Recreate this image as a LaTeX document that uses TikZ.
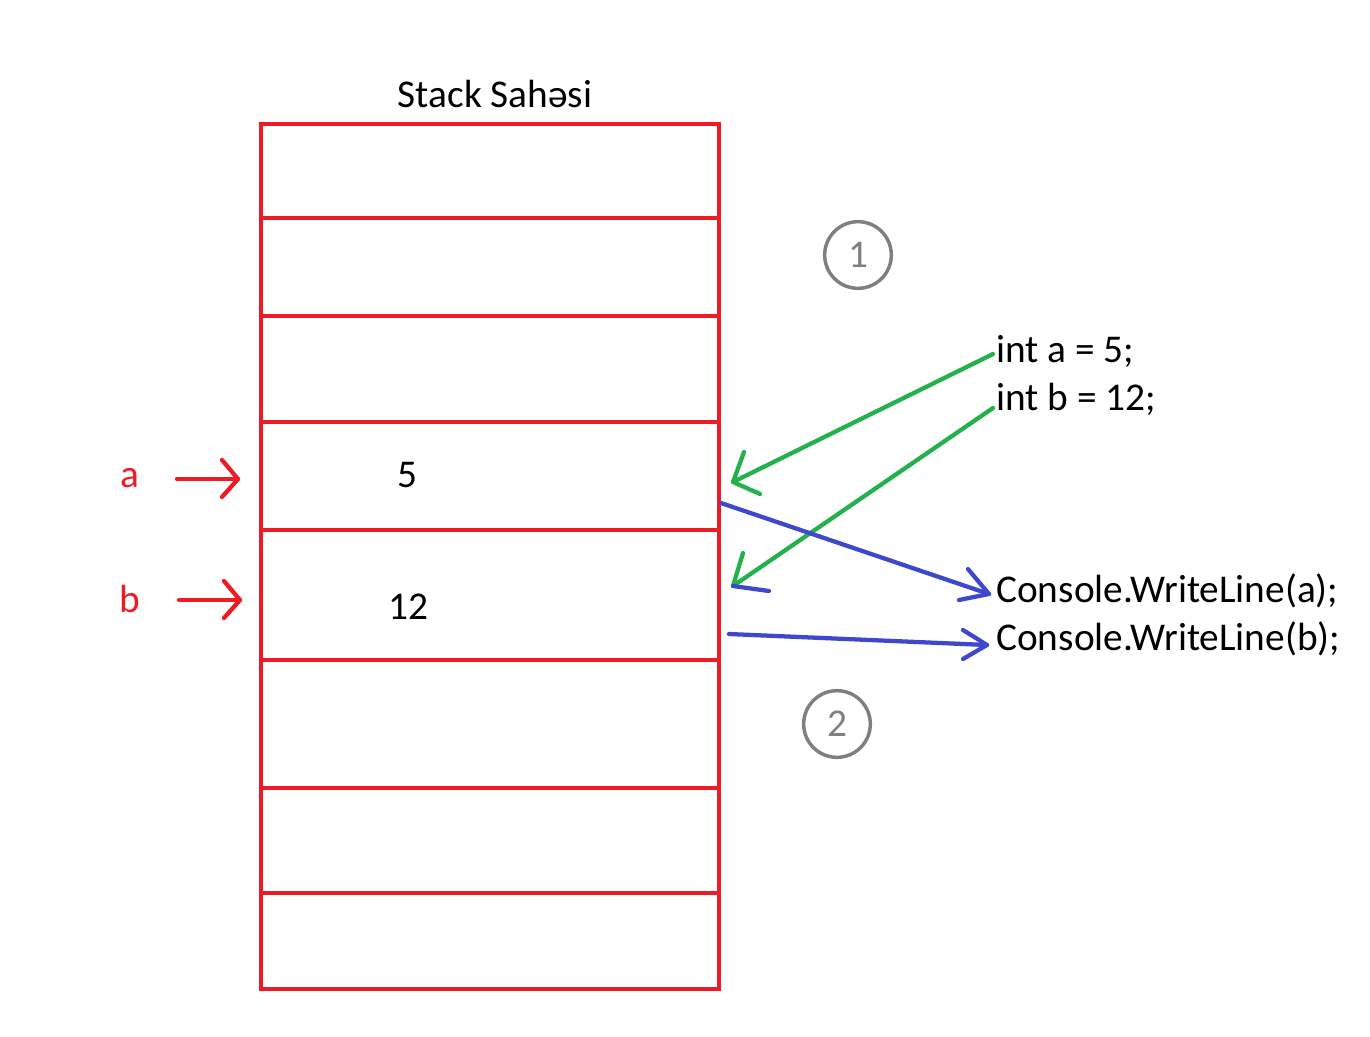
\documentclass[tikz,border=0pt]{standalone}
\usepackage{fontspec}
\setmainfont{Carlito}
\definecolor{pred}{HTML}{ED1C24}
\definecolor{pgreen}{HTML}{22B14C}
\definecolor{pblue}{HTML}{3F48CC}
\definecolor{pgray}{HTML}{7F7F7F}
\begin{document}
\begin{tikzpicture}[x=0.75pt,y=-0.75pt,
  txt/.style={font=\fontsize{29.5}{34}\selectfont, inner sep=0pt, anchor=base},
  code/.style={txt, anchor=base west},
  redline/.style={draw=pred, line width=3.2pt},
  pen/.style={line width=3.2pt, line cap=round, line join=round},
  num/.style={circle, draw=pgray, line width=2.6pt, minimum size=50pt, inner sep=0pt, text=pgray, font=\fontsize{29.5}{34}\selectfont}]
\useasboundingbox (0,0) rectangle (1370,1036);
% stack box
\node[txt] (title) at (495,107) {Stack Sahəsi};
\draw[redline] (261,124) rectangle (719,989);
\foreach \yy in {218,316,422,530,660,788,893}
  \draw[redline] (261,\yy) -- (721,\yy);
% values
\node[txt] (va) at (407,487) {5};
\node[txt] (vb) at (408,619) {12};
% labels
\node[txt, text=pred] (la) at (130,487) {a};
\node[txt, text=pred] (lb) at (130,612) {b};
\coordinate (la1) at (177,479);
\coordinate (la2) at (238,479);
\coordinate (lb1) at (179,600);
\coordinate (lb2) at (240,600);
\draw[pen, draw=pred] (la1) -- (la2);
\draw[pen, draw=pred] (222,460) -- (la2) -- (222,497);
\draw[pen, draw=pred] (lb1) -- (lb2);
\draw[pen, draw=pred] (224,581) -- (lb2) -- (224,618);
% circles
\node[num] (c1) at (858,255) {1};
\node[num] (c2) at (837,724) {2};
% code
\node[code] (ca) at (996,362) {int a = 5;};
\node[code] (cb) at (996,410) {int b = 12;};
\node[code] (wa) at (996,602) {Console.WriteLine(a);};
\node[code] (wb) at (996,650) {Console.WriteLine(b);};
% green arrows
\coordinate (g1s) at (993,354);
\coordinate (g1t) at (733,482);
\coordinate (g2s) at (993,408);
\coordinate (g2t) at (733,586);
\draw[pen, draw=pgreen] (g1s) -- (g1t);
\draw[pen, draw=pgreen] (744,452) -- (g1t) -- (760,494);
\draw[pen, draw=pgreen] (g2s) -- (g2t);
\draw[pen, draw=pgreen] (743,553) -- (g2t);
\draw[pen, draw=pblue] (g2t) -- (769,591);
% blue arrows
\coordinate (b1s) at (721,503);
\coordinate (b1t) at (989,594);
\coordinate (b2s) at (729,634);
\coordinate (b2t) at (987,645);
\draw[pen, draw=pblue] (b1s) -- (b1t);
\draw[pen, draw=pblue] (968,569) -- (b1t) -- (959,600);
\draw[pen, draw=pblue] (b2s) -- (b2t);
\draw[pen, draw=pblue] (963,630) -- (b2t) -- (963,659);
\end{tikzpicture}
\end{document}
